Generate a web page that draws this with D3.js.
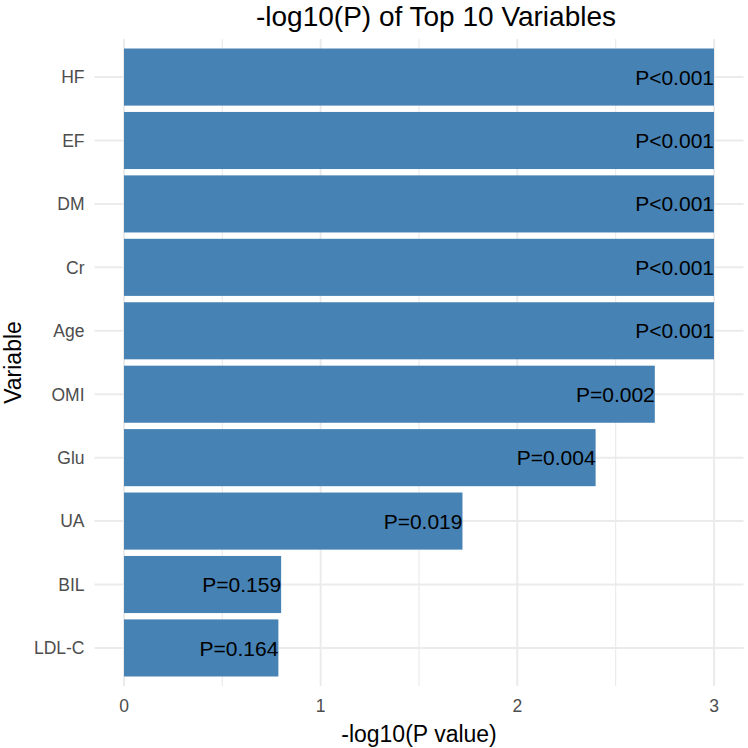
<!DOCTYPE html>
<html>
<head>
<meta charset="utf-8">
<script src="https://cdn.jsdelivr.net/npm/d3@7"></script>
<style>
  body { margin: 0; background: #fff; }
  text { font-family: "Liberation Sans", Arial, sans-serif; }
</style>
</head>
<body>
<script>
// top 10 variables, top to bottom
var variables = ["HF", "EF", "DM", "Cr", "Age", "OMI", "Glu", "UA", "BIL", "LDL-C"];
var logP = [3, 3, 3, 3, 3, 2.699, 2.398, 1.721, 0.799, 0.785];
var pLabels = ["P<0.001", "P<0.001", "P<0.001", "P<0.001", "P<0.001",
               "P=0.002", "P=0.004", "P=0.019", "P=0.159", "P=0.164"];
var xTicks = [0, 1, 2, 3];
var xMinor = [0.5, 1.5, 2.5];

var data = variables.map(function(v, i) {
  return {key: v, value: logP[i], label: pLabels[i]};
});

var w = 748, h = 748;
var margin = {top: 39, bottom: 62, left: 94.5, right: 4.5};

var svg = d3.select("body").append("svg")
  .attr("width", w)
  .attr("height", h);

var x = d3.scaleLinear()
  .domain([-0.15, 3.15])
  .range([margin.left, w - margin.right]);

// discrete axis with 0.6 expansion each side
var step = (h - margin.bottom - margin.top) / (variables.length - 1 + 1.2);
var y = function(k) {
  return margin.top + (0.6 + variables.indexOf(k)) * step;
};
var barH = step * 0.9;

// grid
svg.selectAll(".minor")
  .data(xMinor)
  .enter().append("line")
  .attr("x1", function(d) { return x(d); })
  .attr("x2", function(d) { return x(d); })
  .attr("y1", margin.top)
  .attr("y2", h - margin.bottom)
  .attr("stroke", "#ebebeb")
  .attr("stroke-width", 1.2);

svg.selectAll(".major")
  .data(xTicks)
  .enter().append("line")
  .attr("x1", function(d) { return x(d); })
  .attr("x2", function(d) { return x(d); })
  .attr("y1", margin.top)
  .attr("y2", h - margin.bottom)
  .attr("stroke", "#ebebeb")
  .attr("stroke-width", 2);

svg.selectAll(".hgrid")
  .data(variables)
  .enter().append("line")
  .attr("x1", margin.left)
  .attr("x2", w - margin.right)
  .attr("y1", function(d) { return y(d); })
  .attr("y2", function(d) { return y(d); })
  .attr("stroke", "#ebebeb")
  .attr("stroke-width", 2);

// bars
svg.selectAll("rect")
  .data(data)
  .enter().append("rect")
  .attr("x", x(0))
  .attr("y", function(d) { return y(d.key) - barH / 2; })
  .attr("width", function(d) { return x(d.value) - x(0); })
  .attr("height", barH)
  .attr("fill", "#4682B4");

// value labels
svg.selectAll(".val-label")
  .data(data)
  .enter().append("text")
  .attr("x", function(d) { return x(d.value); })
  .attr("y", function(d) { return y(d.key); })
  .attr("dy", "0.36em")
  .attr("text-anchor", "end")
  .attr("font-size", 21)
  .attr("fill", "#000")
  .text(function(d) { return d.label; });

// y labels
svg.selectAll(".y-label")
  .data(variables)
  .enter().append("text")
  .attr("x", margin.left - 10)
  .attr("y", function(d) { return y(d); })
  .attr("dy", "0.36em")
  .attr("text-anchor", "end")
  .attr("font-size", 17.5)
  .attr("fill", "#4d4d4d")
  .text(function(d) { return d; });

// x tick labels
svg.selectAll(".x-label")
  .data(xTicks)
  .enter().append("text")
  .attr("x", function(d) { return x(d); })
  .attr("y", h - margin.bottom + 26)
  .attr("text-anchor", "middle")
  .attr("font-size", 17.5)
  .attr("fill", "#4d4d4d")
  .text(function(d) { return d; });

// axis titles
svg.append("text")
  .attr("x", (margin.left + w - margin.right) / 2)
  .attr("y", h - 6)
  .attr("text-anchor", "middle")
  .attr("font-size", 23)
  .text("-log10(P value)");

svg.append("text")
  .attr("transform", "translate(21," + ((margin.top + h - margin.bottom) / 2) + ") rotate(-90)")
  .attr("text-anchor", "middle")
  .attr("font-size", 23)
  .text("Variable");

svg.append("text")
  .attr("x", 436)
  .attr("y", 26)
  .attr("text-anchor", "middle")
  .attr("font-size", 28)
  .text("-log10(P) of Top 10 Variables");
</script>
</body>
</html>
